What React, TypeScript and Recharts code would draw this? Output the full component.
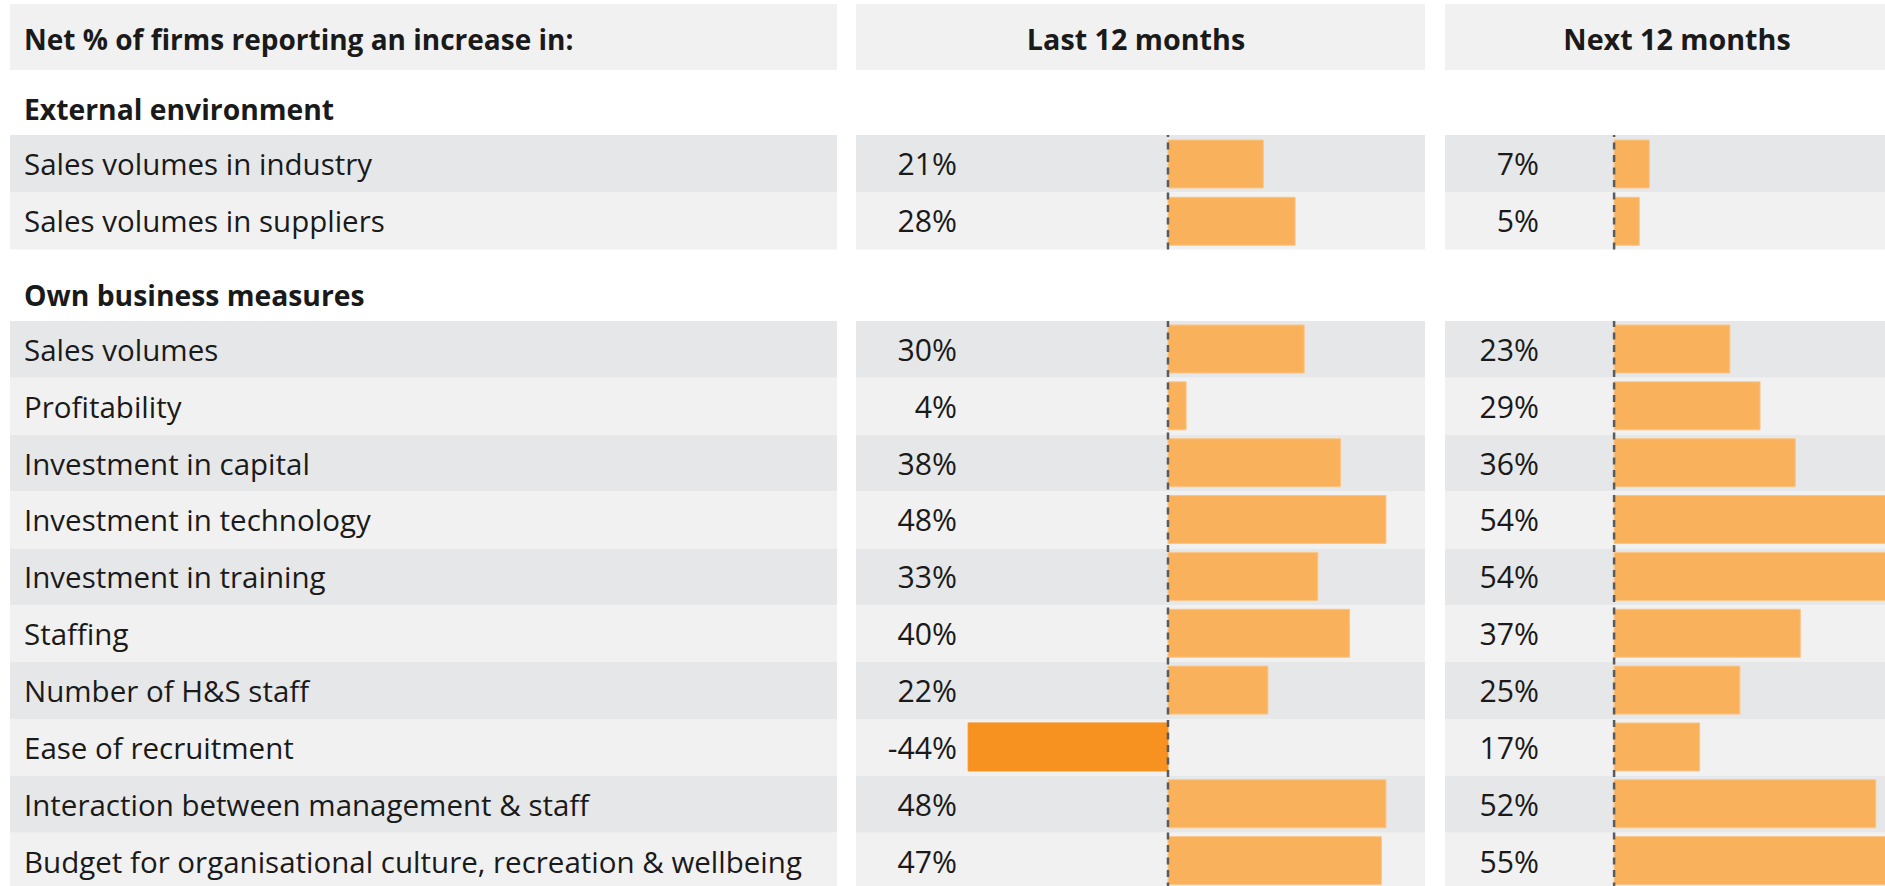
import React from 'react';
import { BarChart, Bar, XAxis, YAxis, ReferenceArea, ReferenceLine, Cell } from 'recharts';

// ---------- data ----------
const headerTitle = 'Net % of firms reporting an increase in:';
const periodLabels = ['Last 12 months', 'Next 12 months'];
const sectionTitles = ['External environment', 'Own business measures'];

const externalCategories = ['Sales volumes in industry', 'Sales volumes in suppliers'];
const externalLast = [21, 28];
const externalNext = [7, 5];

const ownCategories = [
  'Sales volumes',
  'Profitability',
  'Investment in capital',
  'Investment in technology',
  'Investment in training',
  'Staffing',
  'Number of H&S staff',
  'Ease of recruitment',
  'Interaction between management & staff',
  'Budget for organisational culture, recreation & wellbeing',
];
const ownLast = [30, 4, 38, 48, 33, 40, 22, -44, 48, 47];
const ownNext = [23, 29, 36, 54, 54, 37, 25, 17, 52, 55];

// ---------- styles ----------
const FONT = "'Open Sans', sans-serif";
const TEXT = '#1a1a1a';
const ROW_DARK = '#e6e7e8';
const ROW_LIGHT = '#f1f1f1';
const HEAD_BG = '#f1f1f1';
const BAR_POS = '#f9b25b';
const BAR_NEG = '#f7911f';
const LABEL_SIZE = 29.5;
const VALUE_SIZE = 30.2;

type Row = { name: string; last: number; next: number };
const buildRows = (cats: string[], last: number[], next: number[]): Row[] =>
  cats.map((name, i) => ({ name, last: last[i], next: next[i] }));

const externalRows = buildRows(externalCategories, externalLast, externalNext);
const ownRows = buildRows(ownCategories, ownLast, ownNext);

const LabelTick = (props: any) => {
  const { x, y, payload } = props;
  return (
    <text x={x} y={y} dy={11.5} textAnchor="start" fontFamily={FONT} fontSize={LABEL_SIZE} fill={TEXT}>
      {payload.value}
    </text>
  );
};

const ValueTick = (props: any) => {
  const { x, y, index, rows, valueKey } = props;
  const v = rows[index][valueKey];
  return (
    <text x={x} y={y} dy={11.5} textAnchor="end" fontFamily={FONT} fontSize={VALUE_SIZE} fill={TEXT}>
      {`${v}%`}
    </text>
  );
};

const rowBands = (rows: Row[]) =>
  rows.map((r, i) => (
    <ReferenceArea
      key={r.name}
      y1={r.name}
      y2={r.name}
      fill={i % 2 === 0 ? ROW_DARK : ROW_LIGHT}
      fillOpacity={1}
      stroke="none"
    />
  ));

function LabelColumn({ rows, top, height }: { rows: Row[]; top: number; height: number }) {
  return (
    <div style={{ position: 'absolute', left: 10, top, width: 827, height }}>
      <BarChart width={827} height={height} data={rows} layout="vertical" margin={{ top: 0, right: 0, bottom: 0, left: 0 }}>
        <XAxis type="number" hide domain={[0, 1]} allowDataOverflow />
        <YAxis
          type="category"
          dataKey="name"
          mirror
          axisLine={false}
          tickLine={false}
          tickSize={0}
          tickMargin={14}
          interval={0}
          tick={<LabelTick />}
        />
        {rowBands(rows)}
        <Bar dataKey="last" fill="transparent" isAnimationActive={false} />
      </BarChart>
    </div>
  );
}

function Panel({
  rows,
  valueKey,
  top,
  left,
  width,
  height,
  domain,
  labelOffset,
}: {
  rows: Row[];
  valueKey: 'last' | 'next';
  top: number;
  left: number;
  width: number;
  height: number;
  domain: [number, number];
  labelOffset: number;
}) {
  return (
    <div style={{ position: 'absolute', left, top, width, height }}>
      <BarChart
        width={width}
        height={height}
        data={rows}
        layout="vertical"
        barSize={48}
        margin={{ top: 0, right: 0, bottom: 0, left: 0 }}
      >
        <XAxis type="number" hide domain={domain} allowDataOverflow />
        <YAxis
          type="category"
          dataKey="name"
          mirror
          axisLine={false}
          tickLine={false}
          tickSize={0}
          tickMargin={labelOffset}
          interval={0}
          tick={<ValueTick rows={rows} valueKey={valueKey} />}
        />
        {rowBands(rows)}
        <Bar dataKey={valueKey} isAnimationActive={false}>
          {rows.map((r) => (
            <Cell
              key={r.name}
              fill={r[valueKey] < 0 ? BAR_NEG : BAR_POS}
              stroke={r[valueKey] < 0 ? BAR_NEG : '#fbc588'}
              strokeWidth={1}
            />
          ))}
        </Bar>
        <ReferenceLine x={0} stroke="#5a5b5d" strokeWidth={2.5} strokeDasharray="7 5.5" />
      </BarChart>
    </div>
  );
}

function Section({ rows, top, rowH }: { rows: Row[]; top: number; rowH: number }) {
  const h = rows.length * rowH;
  return (
    <>
      <LabelColumn rows={rows} top={top} height={h} />
      <Panel rows={rows} valueKey="last" top={top} left={856} width={569} height={h} domain={[-68.7, 56.6]} labelOffset={101} />
      <Panel rows={rows} valueKey="next" top={top} left={1445} width={464} height={h} domain={[-33.6, 58.6]} labelOffset={94} />
    </>
  );
}

export default function App() {
  return (
    <div
      style={{
        position: 'absolute',
        left: 0,
        top: 0,
        width: 1885,
        height: 886,
        overflow: 'hidden',
        background: '#ffffff',
        fontFamily: FONT,
      }}
    >
      <svg width={1885} height={886} style={{ position: 'absolute', left: 0, top: 0 }}>
        <rect x={10} y={4} width={827} height={66} fill={HEAD_BG} />
        <rect x={856} y={4} width={569} height={66} fill={HEAD_BG} />
        <rect x={1445} y={4} width={464} height={66} fill={HEAD_BG} />
        <text x={24} y={50} fontFamily={FONT} fontWeight={700} fontSize={28} fill={TEXT}>
          {headerTitle}
        </text>
        <text x={1136} y={50} textAnchor="middle" fontFamily={FONT} fontWeight={700} fontSize={28.7} fill={TEXT}>
          {periodLabels[0]}
        </text>
        <text x={1677} y={50} textAnchor="middle" fontFamily={FONT} fontWeight={700} fontSize={28.7} fill={TEXT}>
          {periodLabels[1]}
        </text>
        <text x={24} y={120} fontFamily={FONT} fontWeight={700} fontSize={28.3} fill={TEXT}>
          {sectionTitles[0]}
        </text>
        <text x={24} y={306} fontFamily={FONT} fontWeight={700} fontSize={28.3} fill={TEXT}>
          {sectionTitles[1]}
        </text>
      </svg>
      <Section rows={externalRows} top={135} rowH={57.3} />
      <Section rows={ownRows} top={320.7} rowH={56.85} />
    </div>
  );
}
